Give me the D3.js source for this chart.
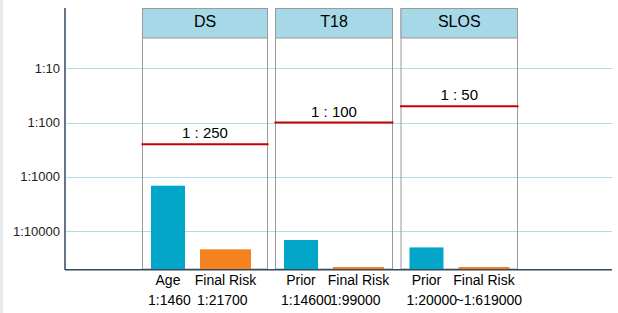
<!DOCTYPE html>
<html>
<head>
<meta charset="utf-8">
<script src="https://cdn.jsdelivr.net/npm/d3@7"></script>
<style>
	body { margin: 0; background: #fff; }
	svg { display: block; font-family: "Liberation Sans", Arial, sans-serif; }
</style>
</head>
<body>
<figure id="chart" style="margin:0"></figure>
<script>
// data
const panels = ["DS", "T18", "SLOS"];
const thresholds = [250, 100, 50];
const barNames = [["Age", "Final Risk"], ["Prior", "Final Risk"], ["Prior", "Final Risk"]];
const priorRisk = [1460, 14600, 20000];
const finalRisk = [21700, 99000, 619000];
const valueLabels = [["1:1460", "1:21700"], ["1:14600", "1:99000"], ["1:20000", "~1:619000"]];
const tickValues = [10, 100, 1000, 10000];
const tickLabels = ["1:10", "1:100", "1:1000", "1:10000"];

// chart dimensions
let dimensions = {
	width: 618,
	height: 313,
	axisLeft: 65,
	axisRight: 612,
	axisTop: 8,
	axisBottom: 269,
	headerHeight: 30,
};

// panel boxes and bar slots inside each panel (layout only)
const panelBoxes = [
	{ x: 142.5, w: 125 },
	{ x: 275.5, w: 117 },
	{ x: 401, w: 116.5 },
];
const barSlots = [
	{ dx: 8.5, w: 34, color: "#02a6c9" },
	{ dx: 57.5, w: 51, color: "#f58220" },
];

const svg = d3.select("figure#chart")
	.append("svg")
	.attr("width", dimensions.width)
	.attr("height", dimensions.height);

// thin grey strip at the page edge
svg.append("rect")
	.attr("x", 0).attr("y", 0)
	.attr("width", 3).attr("height", dimensions.height)
	.attr("fill", "#e8ebeb");

// log scale: risk 1:N, with N growing downwards
const yScale = d3.scaleLog()
	.domain([1, 50000])
	.range([dimensions.axisTop + 6, dimensions.axisBottom])
	.clamp(true);

// grid lines
svg.append("g")
	.selectAll("line")
	.data(tickValues)
	.enter()
	.append("line")
	.attr("x1", dimensions.axisLeft)
	.attr("x2", dimensions.axisRight)
	.attr("y1", d => Math.round(yScale(d)) + 0.5)
	.attr("y2", d => Math.round(yScale(d)) + 0.5)
	.attr("stroke", "#b3dcea")
	.attr("stroke-width", 1);

// panels
const rows = panels.map((name, i) => ({
	name: name,
	threshold: thresholds[i],
	box: panelBoxes[i],
	bars: [
		{ name: barNames[i][0], value: priorRisk[i], label: valueLabels[i][0], slot: barSlots[0] },
		{ name: barNames[i][1], value: finalRisk[i], label: valueLabels[i][1], slot: barSlots[1] },
	],
}));

const panel = svg.selectAll("g.panel")
	.data(rows)
	.enter()
	.append("g")
	.attr("class", "panel")
	.attr("transform", d => `translate(${d.box.x},0)`);

panel.append("rect")
	.attr("x", 0)
	.attr("y", dimensions.axisTop + 0.5)
	.attr("width", d => d.box.w)
	.attr("height", dimensions.axisBottom - dimensions.axisTop - 0.5)
	.attr("fill", "none")
	.attr("stroke", "#9a9a9a");

panel.append("rect")
	.attr("x", 0)
	.attr("y", dimensions.axisTop + 0.5)
	.attr("width", d => d.box.w)
	.attr("height", dimensions.headerHeight - 0.5)
	.attr("fill", "#a6d8e7")
	.attr("stroke", "#9a9a9a");

panel.append("text")
	.attr("x", d => d.box.w / 2)
	.attr("y", 26.5)
	.attr("text-anchor", "middle")
	.attr("font-size", 16)
	.attr("fill", "#000")
	.text(d => d.name);

// bars (very small risks keep a 2px sliver)
const barHeight = d => Math.max(2, dimensions.axisBottom - yScale(d.value));

const bar = panel.selectAll("g.bar")
	.data(d => d.bars)
	.enter()
	.append("g")
	.attr("class", "bar");

bar.append("rect")
	.attr("x", d => d.slot.dx)
	.attr("width", d => d.slot.w)
	.attr("y", d => dimensions.axisBottom - barHeight(d))
	.attr("height", barHeight)
	.attr("fill", d => d.slot.color);

bar.append("text")
	.attr("x", d => d.slot.dx + d.slot.w / 2)
	.attr("y", 284.5)
	.attr("text-anchor", "middle")
	.attr("font-size", 14)
	.attr("fill", "#000")
	.text(d => d.name);

bar.append("text")
	.attr("x", d => d.slot.dx - 3)
	.attr("y", 305)
	.attr("text-anchor", "start")
	.attr("font-size", 14)
	.attr("fill", "#000")
	.text(d => d.label);

// threshold lines
panel.append("line")
	.attr("x1", -1)
	.attr("x2", d => d.box.w + 1)
	.attr("y1", d => yScale(d.threshold))
	.attr("y2", d => yScale(d.threshold))
	.attr("stroke", "#c80000")
	.attr("stroke-width", 2);

panel.append("text")
	.attr("x", d => d.box.w / 2)
	.attr("y", d => yScale(d.threshold) - 6)
	.attr("text-anchor", "middle")
	.attr("font-size", 15)
	.attr("fill", "#000")
	.text(d => `1 : ${d.threshold}`);

// y axis
const yAxis = svg.append("g")
	.attr("transform", `translate(${dimensions.axisLeft},0)`)
	.call(d3.axisLeft(yScale)
		.tickValues(tickValues)
		.tickFormat((d, i) => tickLabels[i])
		.tickSize(0)
		.tickPadding(5));
yAxis.select(".domain").remove();
yAxis.selectAll("text")
	.attr("font-size", 13)
	.attr("font-family", "Liberation Sans, Arial, sans-serif")
	.attr("fill", "#222");

svg.append("line")
	.attr("x1", dimensions.axisLeft).attr("x2", dimensions.axisLeft)
	.attr("y1", dimensions.axisTop).attr("y2", dimensions.axisBottom + 1)
	.attr("stroke", "#34495e")
	.attr("stroke-width", 1.5);

svg.append("line")
	.attr("x1", dimensions.axisLeft).attr("x2", dimensions.axisRight)
	.attr("y1", dimensions.axisBottom + 0.75).attr("y2", dimensions.axisBottom + 0.75)
	.attr("stroke", "#34495e")
	.attr("stroke-width", 1.5);
</script>
</body>
</html>
